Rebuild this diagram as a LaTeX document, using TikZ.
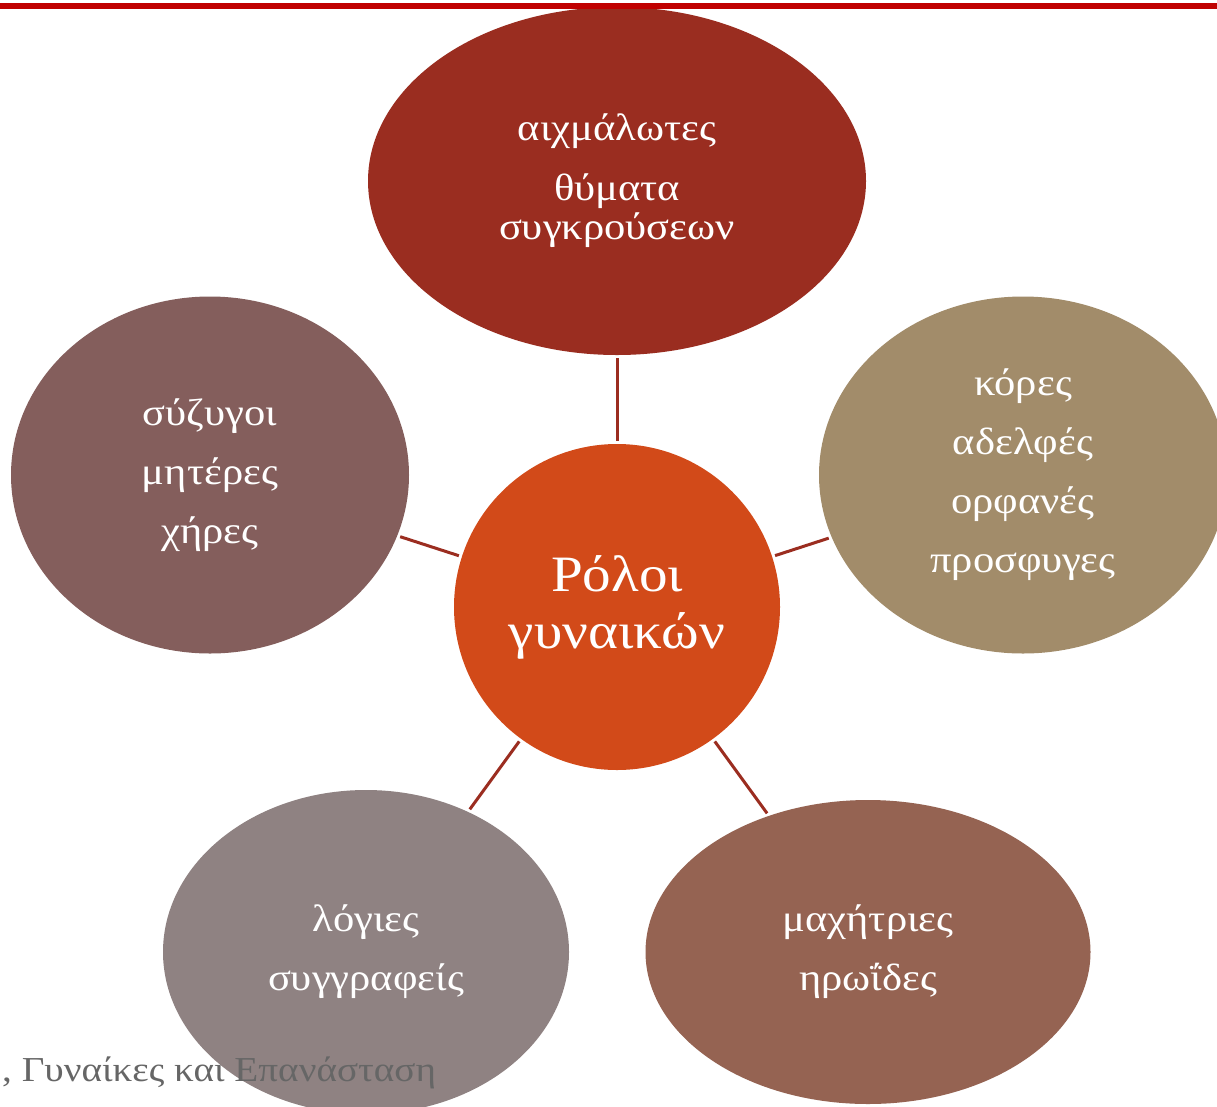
\documentclass[tikz,border=0pt]{standalone}
\usepackage{fontspec}
\setmainfont[FakeStretch=1.12]{Liberation Serif}
\usetikzlibrary{shapes.geometric}
\definecolor{barred}{HTML}{C00000}
\definecolor{linkred}{HTML}{9B2D20}
\definecolor{topred}{HTML}{9A2D20}
\definecolor{midorange}{HTML}{D24A19}
\definecolor{sand}{HTML}{A28C6A}
\definecolor{mauve}{HTML}{845E5C}
\definecolor{ash}{HTML}{8F8282}
\definecolor{clay}{HTML}{956352}
\definecolor{captiongray}{HTML}{666666}

\begin{document}
\begin{tikzpicture}[x=1pt,y=-1pt,
  role/.style={ellipse,inner sep=0pt,text=white,align=center,
    font=\fontsize{38}{39}\selectfont},
  link/.style={draw=linkred,line width=3pt,shorten <=3pt,shorten >=3pt}]
\clip (0,0) rectangle (1217,1106);
\fill[white] (0,0) rectangle (1217,1106);

% outer roles
\node[role,fill=topred,minimum width=498,minimum height=348] (captives) at (617,181)
  {αιχμάλωτες\\[21pt]θύματα\\συγκρούσεων};
\node[role,fill=mauve,minimum width=398,minimum height=357] (wives) at (210,475)
  {σύζυγοι\\[20pt]μητέρες\\[20pt]χήρες};
\node[role,fill=sand,minimum width=408,minimum height=357] (daughters) at (1023,475)
  {κόρες\\[20pt]αδελφές\\[20pt]ορφανές\\[20pt]προσφυγες};
\node[role,fill=ash,minimum width=406,minimum height=324] (scholars) at (366,952)
  {λόγιες\\[20pt]συγγραφείς};
\node[role,fill=clay,minimum width=445,minimum height=304] (fighters) at (868,952)
  {μαχήτριες\\[20pt]ηρωΐδες};

% centre
\node[circle,inner sep=0pt,minimum size=326,fill=midorange,text=white,align=center,
  font=\fontsize{51}{57}\selectfont] (roles) at (617,607) {Ρόλοι\\γυναικών};

\draw[link] (roles) -- (captives);
\draw[link] (roles) -- (wives);
\draw[link] (roles) -- (daughters);
\draw[link] (roles) -- (scholars);
\draw[link] (roles) -- (fighters);

\fill[barred] (0,3) rectangle (1217,9);
\node[anchor=base west,inner sep=0pt,text=captiongray,font=\fontsize{35}{42}\selectfont]
  (source) at (2,1081) {, Γυναίκες και Επανάσταση};
\end{tikzpicture}
\end{document}
